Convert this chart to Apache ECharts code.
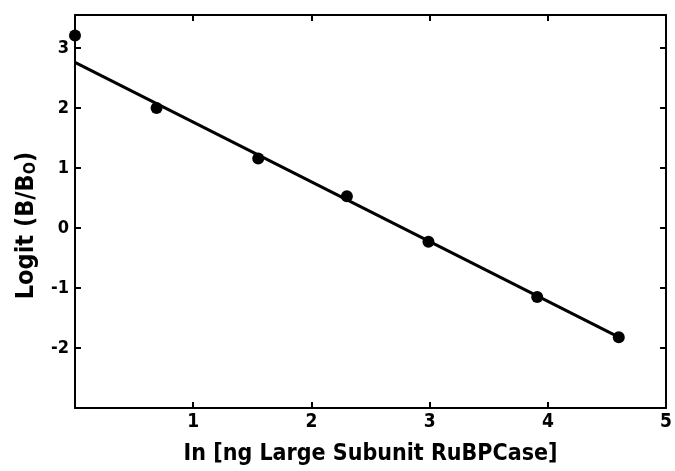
<!DOCTYPE html>
<html>
<head>
<meta charset="utf-8">
<script src="https://cdn.jsdelivr.net/npm/echarts@6/dist/echarts.min.js"></script>
<style>html,body{margin:0;padding:0;background:#fff;}#c{width:675px;height:471px;}</style>
</head>
<body>
<div id="c"></div>
<script>
// Data
var pointsX = [0.0, 0.69, 1.55, 2.30, 2.99, 3.91, 4.60];
var pointsY = [3.21, 2.00, 1.16, 0.53, -0.23, -1.15, -1.82];
var fitX = [0.0, 4.60];
var fitY = [2.76, -1.82];
var xTicks = [1, 2, 3, 4, 5];
var yTicks = [-2, -1, 0, 1, 2, 3];

var FONT = '"DejaVu Sans Condensed", "DejaVu Sans", sans-serif';
var points = pointsX.map(function (x, i) { return [x, pointsY[i]]; });
var fit = fitX.map(function (x, i) { return [x, fitY[i]]; });

var axisLineStyle = { onZero: false, lineStyle: { color: '#000', width: 2 } };
var tickStyle = { show: true, inside: true, length: 6, lineStyle: { color: '#000', width: 2 } };

var chart = echarts.init(document.getElementById('c'));
chart.setOption({
  animation: false,
  backgroundColor: '#fff',
  grid: { left: 75, right: 8, top: 15, bottom: 63, containLabel: false },
  xAxis: [{
    type: 'value', min: 0, max: 5, interval: 1, position: 'bottom',
    axisLine: axisLineStyle, axisTick: tickStyle, splitLine: { show: false },
    axisLabel: {
      color: '#000', fontFamily: FONT, fontWeight: 'bold', fontSize: 19, margin: 5,
      showMinLabel: false,
      formatter: function (v) { return xTicks.indexOf(v) >= 0 ? String(v) : ''; }
    },
    name: 'In [ng Large Subunit RuBPCase]', nameLocation: 'middle', nameGap: 35,
    nameTextStyle: { color: '#000', fontFamily: FONT, fontWeight: 'bold', fontSize: 23 }
  }, {
    type: 'value', min: 0, max: 5, interval: 1, position: 'top',
    axisLine: axisLineStyle, axisTick: tickStyle, axisLabel: { show: false }, splitLine: { show: false }
  }],
  yAxis: [{
    type: 'value', min: -3, max: 3.55, interval: 1, position: 'left',
    axisLine: axisLineStyle, axisTick: tickStyle, splitLine: { show: false },
    axisLabel: {
      color: '#000', fontFamily: FONT, fontWeight: 'bold', fontSize: 18, margin: 6,
      showMinLabel: false, showMaxLabel: false,
      formatter: function (v) { return yTicks.indexOf(v) >= 0 ? String(v) : ''; }
    },
    name: 'Logit (B/B{s|O})', nameLocation: 'middle', nameGap: 36, nameRotate: 90,
    nameTextStyle: {
      color: '#000', fontFamily: FONT, fontWeight: 'bold', fontSize: 25, padding: [0, 28, 0, 0],
      rich: { s: { fontFamily: FONT, fontWeight: 'bold', fontSize: 16, color: '#000', verticalAlign: 'bottom', padding: [10, 0, 0, 0] } }
    }
  }, {
    type: 'value', min: -3, max: 3.55, interval: 1, position: 'right',
    axisLine: axisLineStyle, axisTick: tickStyle, axisLabel: { show: false }, splitLine: { show: false }
  }],
  series: [{
    type: 'line', data: fit, symbol: 'none',
    lineStyle: { color: '#000', width: 3 }, z: 2
  }, {
    type: 'scatter', data: points, symbol: 'circle', symbolSize: 12,
    itemStyle: { color: '#000', opacity: 1 }, z: 3
  }]
});
</script>
</body>
</html>
